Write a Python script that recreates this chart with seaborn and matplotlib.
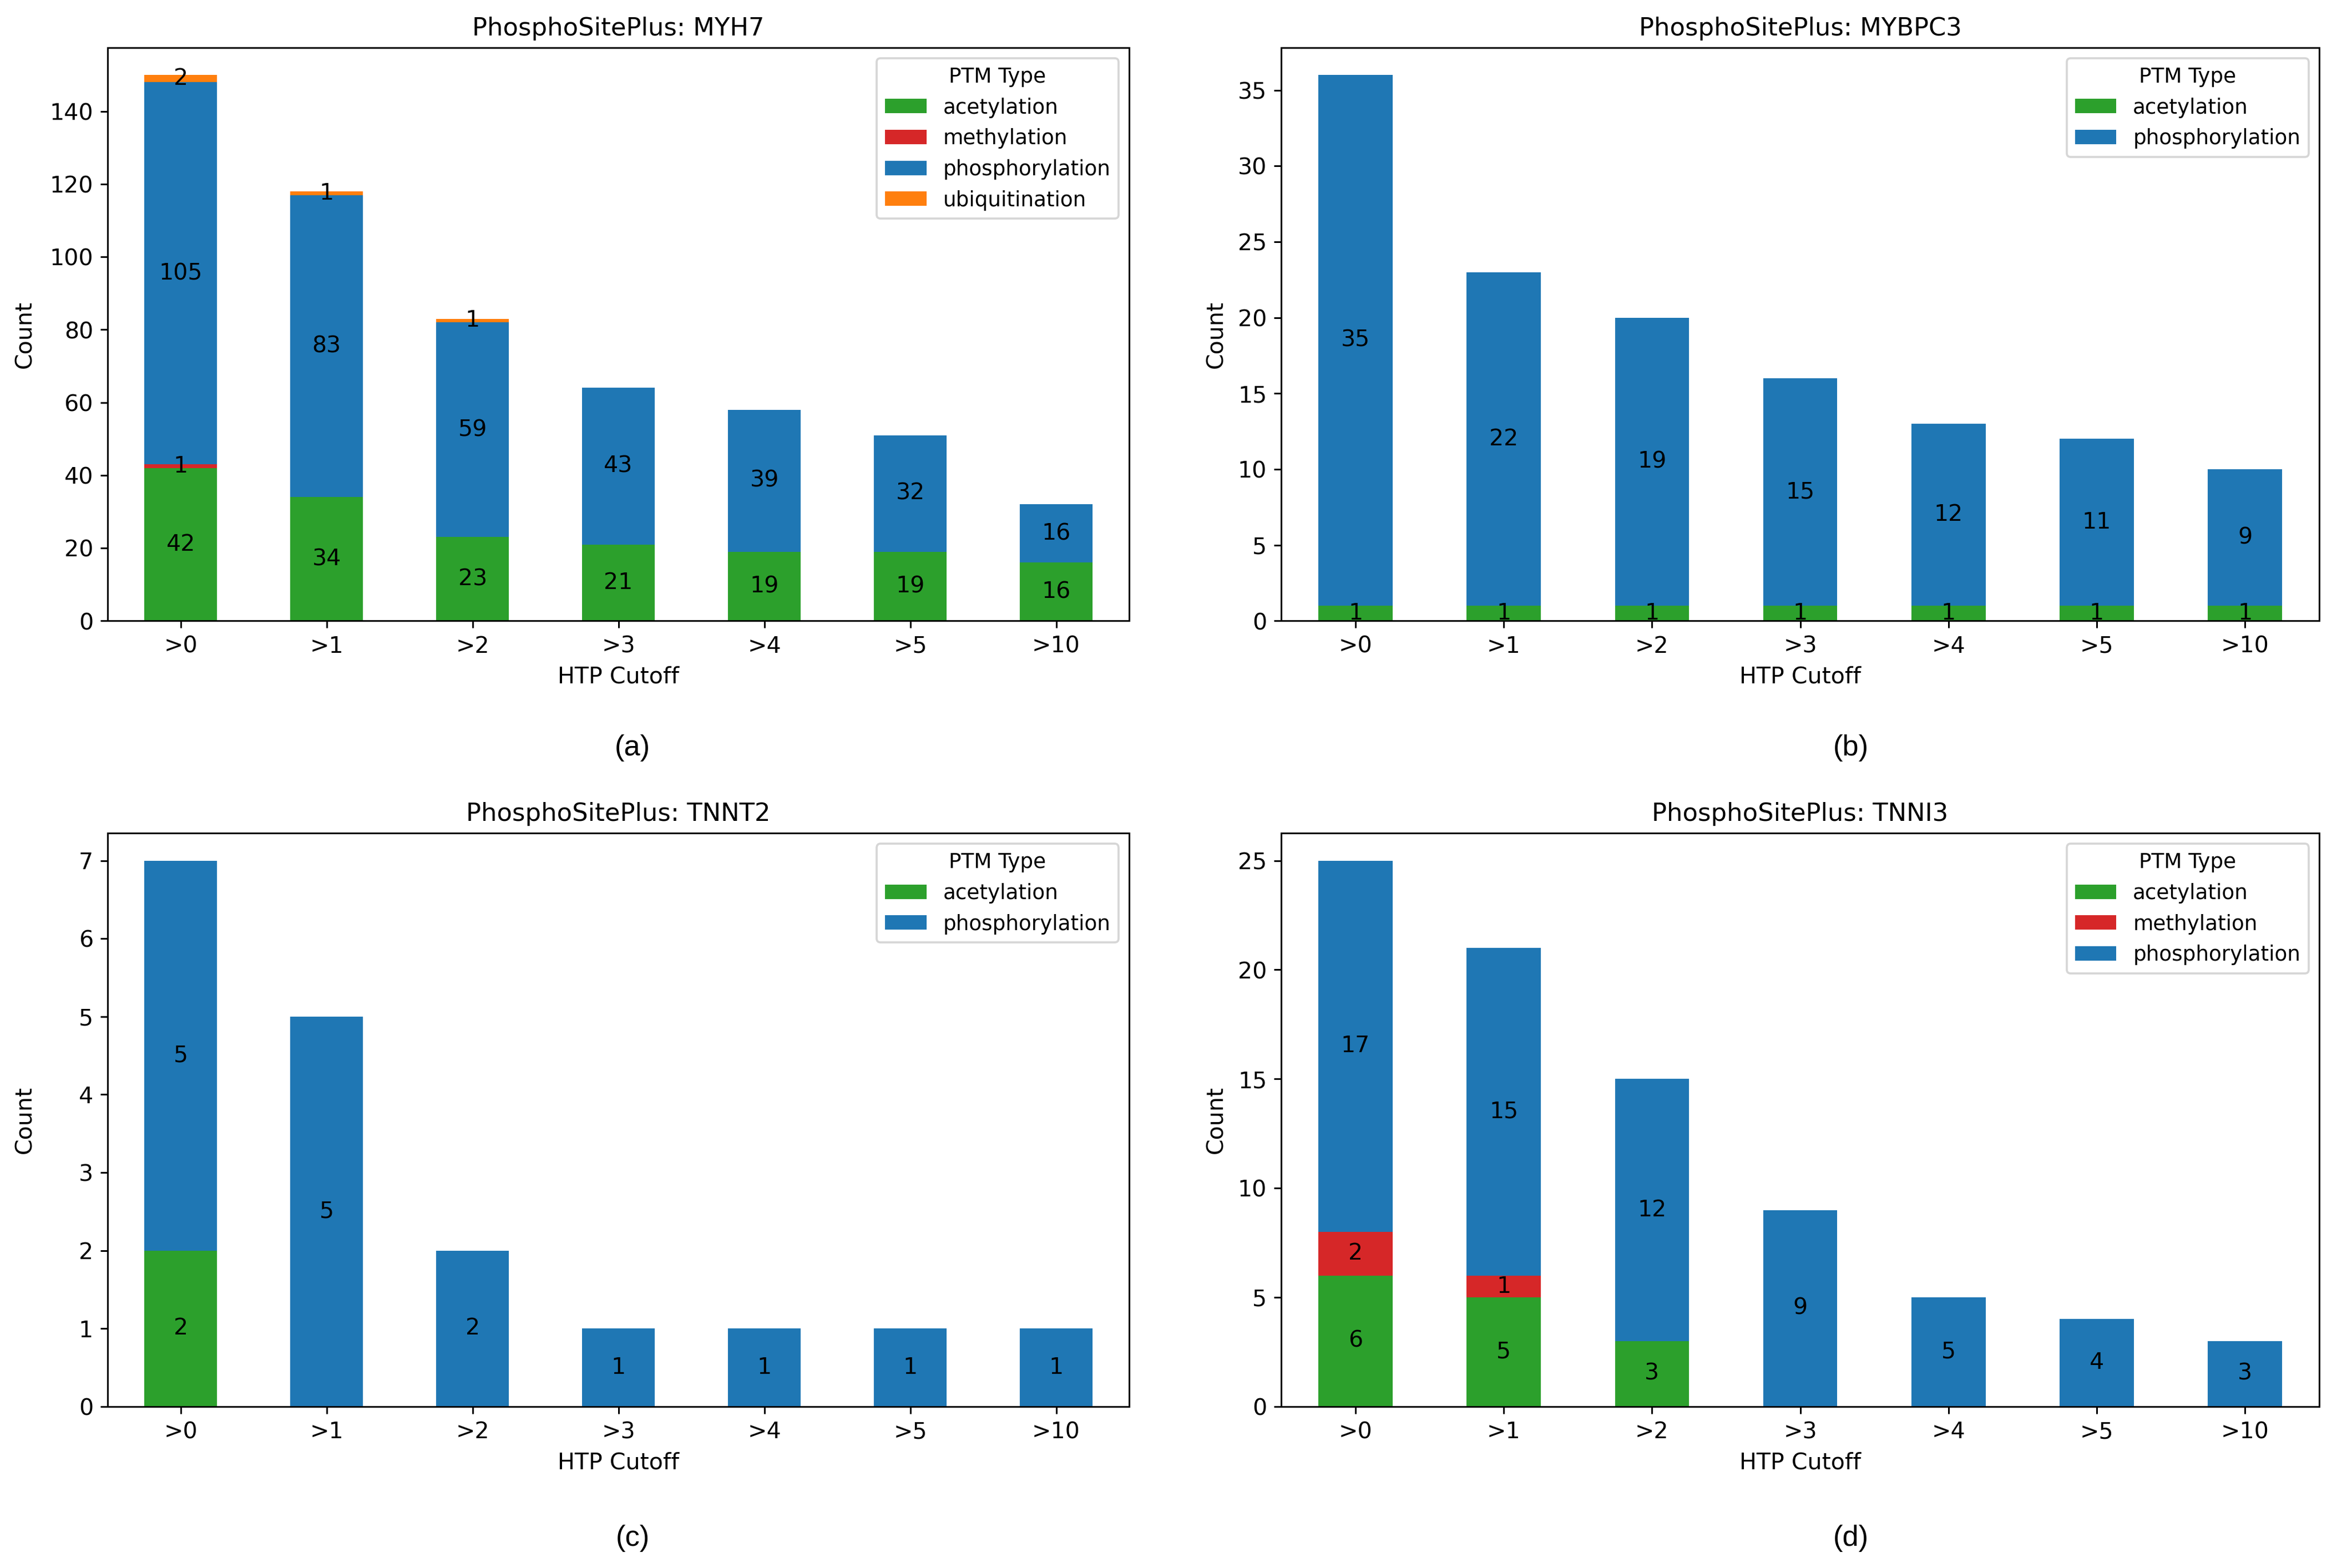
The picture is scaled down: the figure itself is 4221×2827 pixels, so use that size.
import numpy as np
import pandas as pd
import matplotlib
matplotlib.use("Agg")
import matplotlib.pyplot as plt
import seaborn as sns
from matplotlib.patches import Patch

# cutoffs shared by all four panels
cutoffs = [">0", ">1", ">2", ">3", ">4", ">5", ">10"]

ptm_colors = {
    "acetylation": "#2ca02c",
    "methylation": "#d62728",
    "phosphorylation": "#1f77b4",
    "ubiquitination": "#ff7f0e",
}

# counts per PTM type
myh7_acetylation = [42, 34, 23, 21, 19, 19, 16]
myh7_methylation = [1, 0, 0, 0, 0, 0, 0]
myh7_phosphorylation = [105, 83, 59, 43, 39, 32, 16]
myh7_ubiquitination = [2, 1, 1, 0, 0, 0, 0]

mybpc3_acetylation = [1, 1, 1, 1, 1, 1, 1]
mybpc3_phosphorylation = [35, 22, 19, 15, 12, 11, 9]

tnnt2_acetylation = [2, 0, 0, 0, 0, 0, 0]
tnnt2_phosphorylation = [5, 5, 2, 1, 1, 1, 1]

tnni3_acetylation = [6, 5, 3, 0, 0, 0, 0]
tnni3_methylation = [2, 1, 0, 0, 0, 0, 0]
tnni3_phosphorylation = [17, 15, 12, 9, 5, 4, 3]

panels = [
    ("PhosphoSitePlus: MYH7", "(a)", {
        "acetylation": myh7_acetylation,
        "methylation": myh7_methylation,
        "phosphorylation": myh7_phosphorylation,
        "ubiquitination": myh7_ubiquitination}),
    ("PhosphoSitePlus: MYBPC3", "(b)", {
        "acetylation": mybpc3_acetylation,
        "phosphorylation": mybpc3_phosphorylation}),
    ("PhosphoSitePlus: TNNT2", "(c)", {
        "acetylation": tnnt2_acetylation,
        "phosphorylation": tnnt2_phosphorylation}),
    ("PhosphoSitePlus: TNNI3", "(d)", {
        "acetylation": tnni3_acetylation,
        "methylation": tnni3_methylation,
        "phosphorylation": tnni3_phosphorylation}),
]

# axes rects [left, bottom, width, height]
rects = [
    [0.046, 0.604, 0.436, 0.3655],
    [0.547, 0.604, 0.443, 0.3655],
    [0.046, 0.103, 0.436, 0.3655],
    [0.547, 0.103, 0.443, 0.3655],
]
caption_pos = [(0.270, 0.523), (0.790, 0.523), (0.270, 0.019), (0.790, 0.019)]
ylabel_x = [-0.070, -0.052, -0.070, -0.052]

fig = plt.figure(figsize=(15.68, 10.5), dpi=269.26)

for (title, cap, counts), rect, cpos, lx in zip(panels, rects, caption_pos, ylabel_x):
    ax = fig.add_axes(rect)
    order = list(counts.keys())
    # cumulative heights, drawn tallest first so every layer shows (stacked look)
    cum = {}
    running = np.zeros(len(cutoffs))
    for ptm in order:
        running = running + np.array(counts[ptm])
        cum[ptm] = running.copy()
    for ptm in reversed(order):
        sns.barplot(x=cutoffs, y=cum[ptm], color=ptm_colors[ptm], width=0.5,
                    saturation=1, ax=ax, order=cutoffs)
    # labels in the middle of each segment
    base = np.zeros(len(cutoffs))
    for ptm in order:
        vals = np.array(counts[ptm])
        for i, v in enumerate(vals):
            if v > 0:
                ax.text(i, base[i] + v / 2, str(v), ha="center", va="center",
                        fontsize=11, color="black")
        base = base + vals
    ax.set_xlim(-0.5, len(cutoffs) - 0.5)
    ax.set_ylim(0, cum[order[-1]].max() * 1.05)
    ax.set_title(title, fontsize=12)
    ax.set_xlabel("HTP Cutoff", fontsize=11)
    ax.set_ylabel("Count", fontsize=11)
    ax.yaxis.set_label_coords(lx, 0.5)
    ax.tick_params(labelsize=11)
    handles = [Patch(facecolor=ptm_colors[p], label=p) for p in order]
    ax.legend(handles=handles, title="PTM Type", loc="upper right",
              fontsize=10, title_fontsize=10)
    fig.text(cpos[0], cpos[1], cap, ha="center", va="center", fontsize=14,
             family="Liberation Sans")

fig.savefig("out.png", dpi=269.26)
